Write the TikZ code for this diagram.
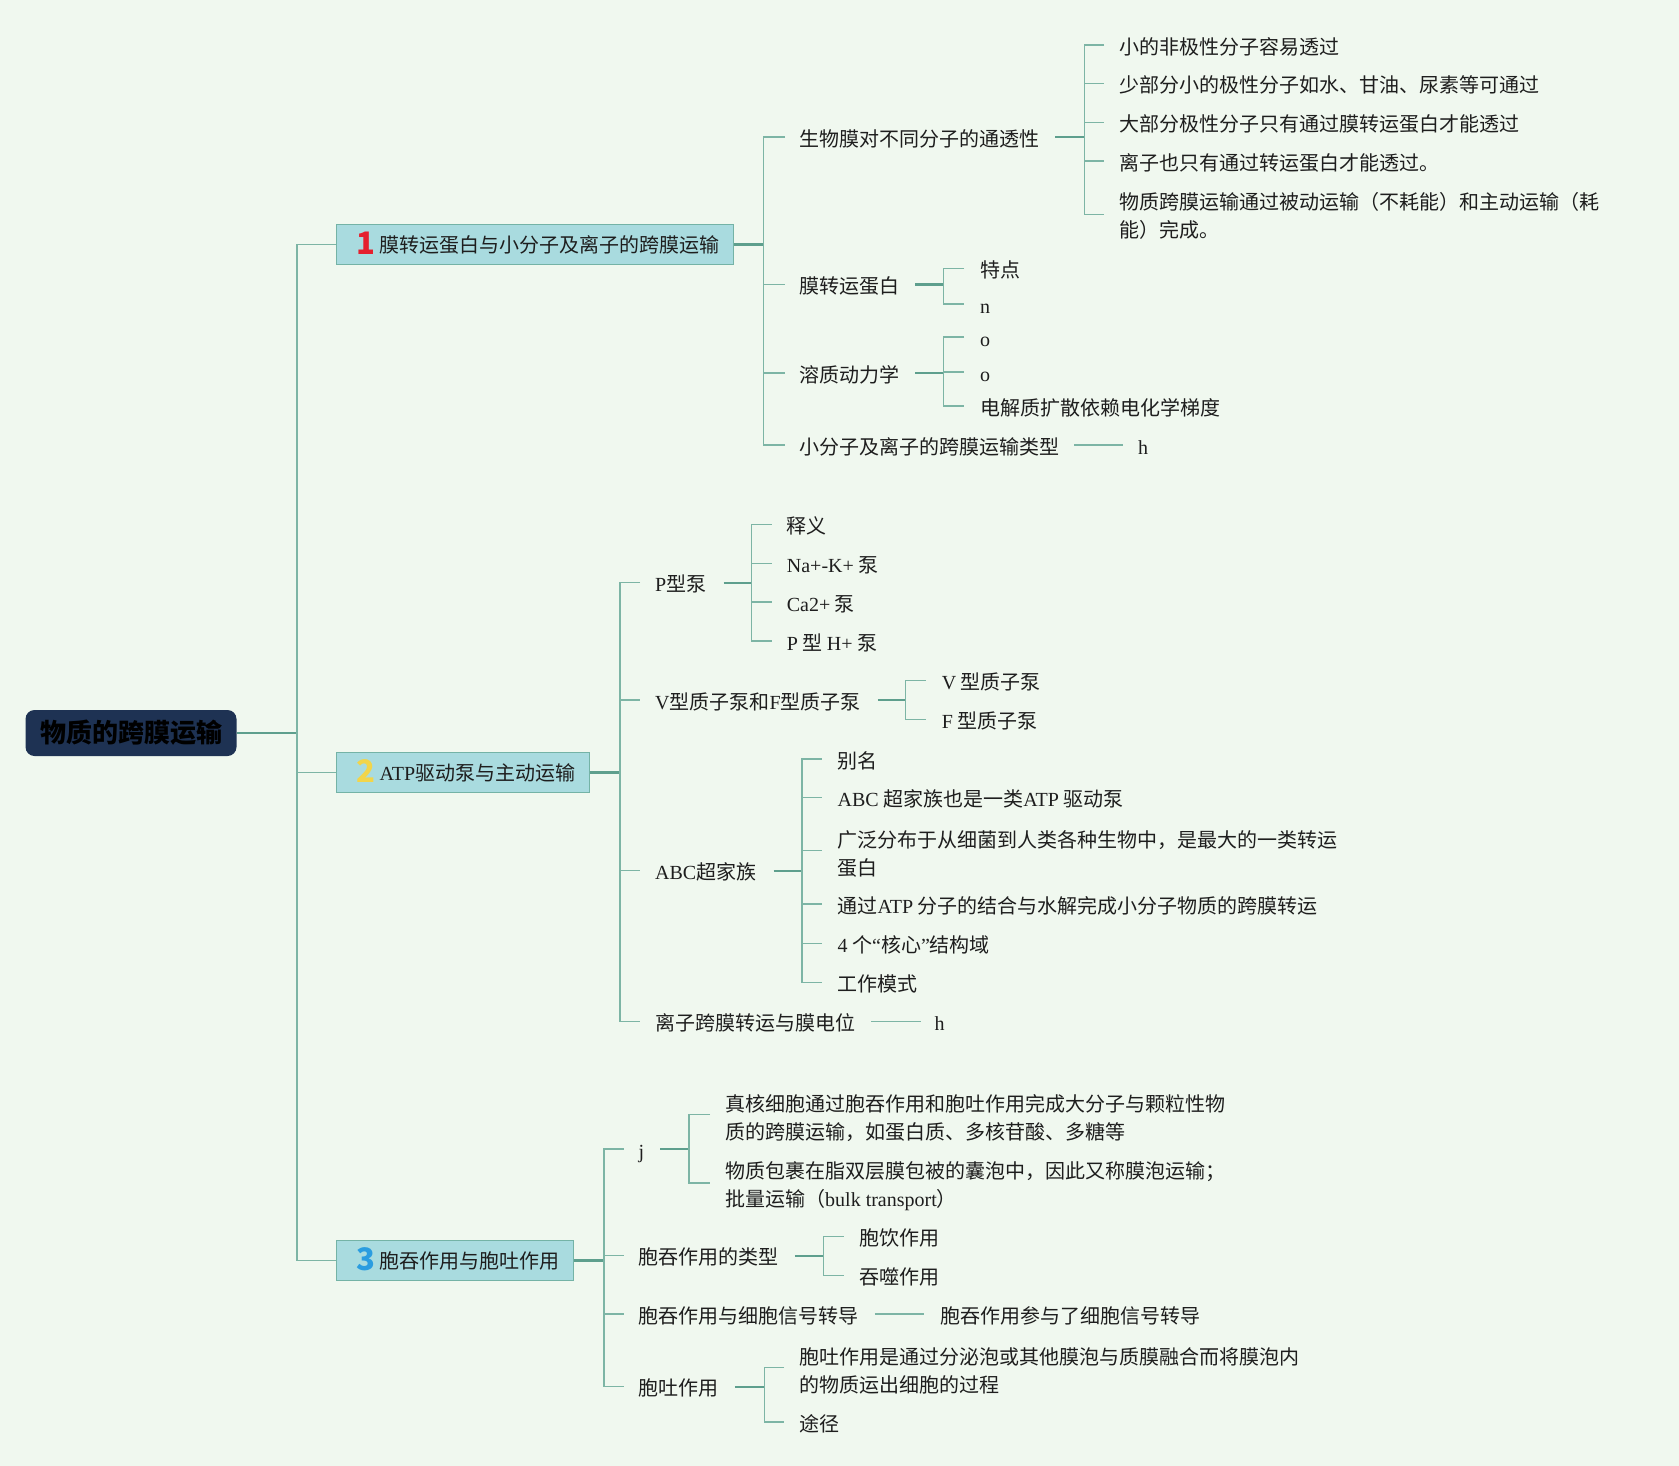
\documentclass[tikz,border=0pt]{standalone}
\usepackage{fontspec}
\setmainfont{Noto Sans CJK SC}
\newfontfamily\enfont{Liberation Serif}
\newcommand\en[1]{{\enfont #1}}
\newcommand\fs{\fontsize{20pt}{28pt}\selectfont}
\newcommand\numb[2]{\makebox[29pt][l]{\hspace{6pt}\raisebox{-2.5pt}{\bfseries\fontsize{31pt}{31pt}\selectfont\color{#1}#2}}}
\definecolor{bg}{HTML}{F0F8EF}
\definecolor{lnA}{HTML}{7DB5A5}
\definecolor{lnB}{HTML}{5E9F8D}
\definecolor{boxF}{HTML}{A9DBDF}
\definecolor{boxB}{HTML}{74B3A6}
\definecolor{navy}{HTML}{1E3253}
\definecolor{txt}{HTML}{1E1E1E}
\definecolor{nA}{HTML}{E5202E}
\definecolor{nB}{HTML}{F2D54A}
\definecolor{nC}{HTML}{2B9DE0}
\begin{document}
\begin{tikzpicture}[x=1pt,y=-1pt,
  t/.style={anchor=west,inner sep=0pt,text height=19pt,text depth=0.8pt,font=\fs,text=txt},
  tm/.style={anchor=west,inner sep=0pt,align=left,font=\fs,text=txt,yshift=-1.5pt},
  tk/.style={draw=lnA,line width=1.4pt,line join=miter},
  cn/.style={draw=lnB,line width=2.3pt},
  box/.style={draw=boxB,fill=boxF,line width=1.2pt,anchor=west,inner xsep=14pt,inner ysep=0pt,minimum height=39.5pt,text height=16pt,text depth=0.8pt,font=\fs,text=txt},
  root/.style={fill=navy,rounded corners=9pt,minimum width=211pt,minimum height=46pt,inner sep=0pt,font=\bfseries\fontsize{26pt}{30pt}\selectfont,text=black}]
\fill[bg] (0,0) rectangle (1679,1466);
\useasboundingbox (0,0) rectangle (1679,1466);

% root and main branches
\node[root] (root) at (131,733) {物质的跨膜运输};
\node[box] (b1) at (336,244.5) {\numb{nA}{1}膜转运蛋白与小分子及离子的跨膜运输};
\node[box] (b2) at (336,772.5) {\numb{nB}{2}\en{ATP}驱动泵与主动运输};
\node[box] (b3) at (336,1260.5) {\numb{nC}{3}胞吞作用与胞吐作用};
\coordinate (tr) at (297,733);
\draw[cn] (root.east) -- (tr);
\draw[tk] (b1.west) -- (tr |- b1.west) -- (tr |- b3.west) -- (b3.west);
\draw[tk] (tr |- b2.west) -- (b2.west);

% ---------- branch 1 ----------
\node[t] (c11) at (799,137) {生物膜对不同分子的通透性};
\node[t] (c12) at (799,284.5) {膜转运蛋白};
\node[t] (c13) at (799,373) {溶质动力学};
\node[t] (c14) at (799,445) {小分子及离子的跨膜运输类型};
\coordinate (s1) at (763.5,244.5);
\draw[cn] (b1.east) -- (s1);
\draw[tk] ([xshift=-14pt]c11.west) -- (s1 |- c11.west) -- (s1 |- c14.west) -- ([xshift=-14pt]c14.west);
\foreach \c in {c12,c13} \draw[tk] (s1 |- \c.west) -- ([xshift=-14pt]\c.west);

\node[t] (d1) at (1119,45) {小的非极性分子容易透过};
\node[t] (d2) at (1119,83.5) {少部分小的极性分子如水、甘油、尿素等可通过};
\node[t] (d3) at (1119,122.5) {大部分极性分子只有通过膜转运蛋白才能透过};
\node[t] (d4) at (1119,161) {离子也只有通过转运蛋白才能透过。};
\node[tm] (d5) at (1119,214.5) {物质跨膜运输通过被动运输（不耗能）和主动运输（耗\\能）完成。};
\coordinate (s11) at (1084.5,137);
\draw[cn] ([xshift=16pt]c11.east) -- (s11);
\draw[tk] ([xshift=-15pt]d1.west) -- (s11 |- d1.west) -- (s11 |- 0,214.5) -- ([xshift=-15pt]d5.west |- 0,214.5);
\foreach \c in {d2,d3,d4} \draw[tk] (s11 |- \c.west) -- ([xshift=-15pt]\c.west);

\node[t] (e1) at (980,268.5) {特点};
\node[t] (e2) at (980,304) {\en{n}};
\coordinate (s12) at (943.5,284.5);
\draw[cn] ([xshift=16pt]c12.east) -- (s12);
\draw[tk] ([xshift=-16pt]e1.west) -- (s12 |- e1.west) -- (s12 |- e2.west) -- ([xshift=-16pt]e2.west);

\node[t] (f1) at (980,337) {\en{o}};
\node[t] (f2) at (980,372) {\en{o}};
\node[t] (f3) at (980,406) {电解质扩散依赖电化学梯度};
\coordinate (s13) at (943.5,373);
\draw[cn] ([xshift=16pt]c13.east) -- (s13);
\draw[tk] ([xshift=-16pt]f1.west) -- (s13 |- f1.west) -- (s13 |- f3.west) -- ([xshift=-16pt]f3.west);
\draw[tk] (s13 |- f2.west) -- ([xshift=-16pt]f2.west);

\node[t] (g1) at (1138,445) {\en{h}};
\draw[tk] ([xshift=15pt]c14.east) -- ([xshift=-15pt]g1.west);

% ---------- branch 2 ----------
\node[t] (p) at (655,582.7) {\en{P}型泵};
\node[t] (v) at (655,700) {\en{V}型质子泵和\en{F}型质子泵};
\node[t] (abc) at (655,870.7) {\en{ABC}超家族};
\node[t] (ion) at (655,1021.3) {离子跨膜转运与膜电位};
\coordinate (s2) at (620,772.5);
\draw[cn] (b2.east) -- (s2);
\draw[tk] ([xshift=-15pt]p.west) -- (s2 |- p.west) -- (s2 |- ion.west) -- ([xshift=-15pt]ion.west);
\foreach \c in {v,abc} \draw[tk] (s2 |- \c.west) -- ([xshift=-15pt]\c.west);

\node[t] (p1) at (786.7,524.3) {释义};
\node[t] (p2) at (786.7,563.3) {\en{Na+-K+} 泵};
\node[t] (p3) at (786.7,602) {\en{Ca2+} 泵};
\node[t] (p4) at (786.7,641) {\en{P} 型 \en{H+} 泵};
\coordinate (s21) at (751.7,582.7);
\draw[cn] ([xshift=17pt]p.east) -- (s21);
\draw[tk] ([xshift=-15pt]p1.west) -- (s21 |- p1.west) -- (s21 |- p4.west) -- ([xshift=-15pt]p4.west);
\foreach \c in {p2,p3} \draw[tk] (s21 |- \c.west) -- ([xshift=-15pt]\c.west);

\node[t] (v1) at (941.7,680.7) {\en{V} 型质子泵};
\node[t] (v2) at (941.7,719.3) {\en{F} 型质子泵};
\coordinate (s22) at (905.7,700);
\draw[cn] ([xshift=17pt]v.east) -- (s22);
\draw[tk] ([xshift=-16pt]v1.west) -- (s22 |- v1.west) -- (s22 |- v2.west) -- ([xshift=-16pt]v2.west);

\node[t] (a1) at (837.5,759) {别名};
\node[t] (a2) at (837.5,797.3) {\en{ABC} 超家族也是一类\en{ATP} 驱动泵};
\node[tm] (a3) at (837.5,852) {广泛分布于从细菌到人类各种生物中，是最大的一类转运\\蛋白};
\node[t] (a4) at (837.5,904) {通过\en{ATP} 分子的结合与水解完成小分子物质的跨膜转运};
\node[t] (a5) at (837.5,943.3) {\en{4} 个\en{“}核心\en{”}结构域};
\node[t] (a6) at (837.5,982.3) {工作模式};
\coordinate (s23) at (802,870.7);
\draw[cn] ([xshift=17pt]abc.east) -- (s23);
\draw[tk] ([xshift=-16pt]a1.west) -- (s23 |- a1.west) -- (s23 |- a6.west) -- ([xshift=-16pt]a6.west);
\foreach \c in {a2,a4,a5} \draw[tk] (s23 |- \c.west) -- ([xshift=-16pt]\c.west);
\draw[tk] (s23 |- 0,850.7) -- ([xshift=-16pt]a3.west |- 0,850.7);

\node[t] (ih) at (934.5,1021.3) {\en{h}};
\draw[tk] ([xshift=16pt]ion.east) -- ([xshift=-14pt]ih.west);

% ---------- branch 3 ----------
\node[t] (j) at (638.5,1149) {\en{j}};
\node[t] (ty) at (638.5,1255.7) {胞吞作用的类型};
\node[t] (sg) at (638.5,1314) {胞吞作用与细胞信号转导};
\node[t] (ex) at (638.5,1386.7) {胞吐作用};
\coordinate (s3) at (604,1260.5);
\draw[cn] (b3.east) -- (s3);
\draw[tk] ([xshift=-15pt]j.west) -- (s3 |- j.west) -- (s3 |- ex.west) -- ([xshift=-15pt]ex.west);
\foreach \c in {ty,sg} \draw[tk] (s3 |- \c.west) -- ([xshift=-15pt]\c.west);

\node[tm] (j1) at (725,1116.7) {真核细胞通过胞吞作用和胞吐作用完成大分子与颗粒性物\\质的跨膜运输，如蛋白质、多核苷酸、多糖等};
\node[tm] (j2) at (725,1185) {物质包裹在脂双层膜包被的囊泡中，因此又称膜泡运输；\\批量运输（\en{bulk transport}）};
\coordinate (s31) at (689,1149);
\draw[cn] ([xshift=16pt]j.east) -- (s31);
\draw[tk] ([xshift=-15pt]j1.west |- 0,1114.5) -- (s31 |- 0,1114.5) -- (s31 |- 0,1183) -- ([xshift=-15pt]j2.west |- 0,1183);

\node[t] (ty1) at (859.7,1236.7) {胞饮作用};
\node[t] (ty2) at (859.7,1275.7) {吞噬作用};
\coordinate (s32) at (823.7,1255.7);
\draw[cn] ([xshift=16pt]ty.east) -- (s32);
\draw[tk] ([xshift=-16pt]ty1.west) -- (s32 |- ty1.west) -- (s32 |- ty2.west) -- ([xshift=-16pt]ty2.west);

\node[t] (sg1) at (940,1314) {胞吞作用参与了细胞信号转导};
\draw[tk] ([xshift=16pt]sg.east) -- ([xshift=-16pt]sg1.west);

\node[tm] (ex1) at (799,1369) {胞吐作用是通过分泌泡或其他膜泡与质膜融合而将膜泡内\\的物质运出细胞的过程};
\node[t] (ex2) at (799,1422) {途径};
\coordinate (s34) at (764.3,1386.7);
\draw[cn] ([xshift=16pt]ex.east) -- (s34);
\draw[tk] ([xshift=-15pt]ex1.west |- 0,1367.3) -- (s34 |- 0,1367.3) -- (s34 |- ex2.west) -- ([xshift=-15pt]ex2.west);
\end{tikzpicture}
\end{document}
